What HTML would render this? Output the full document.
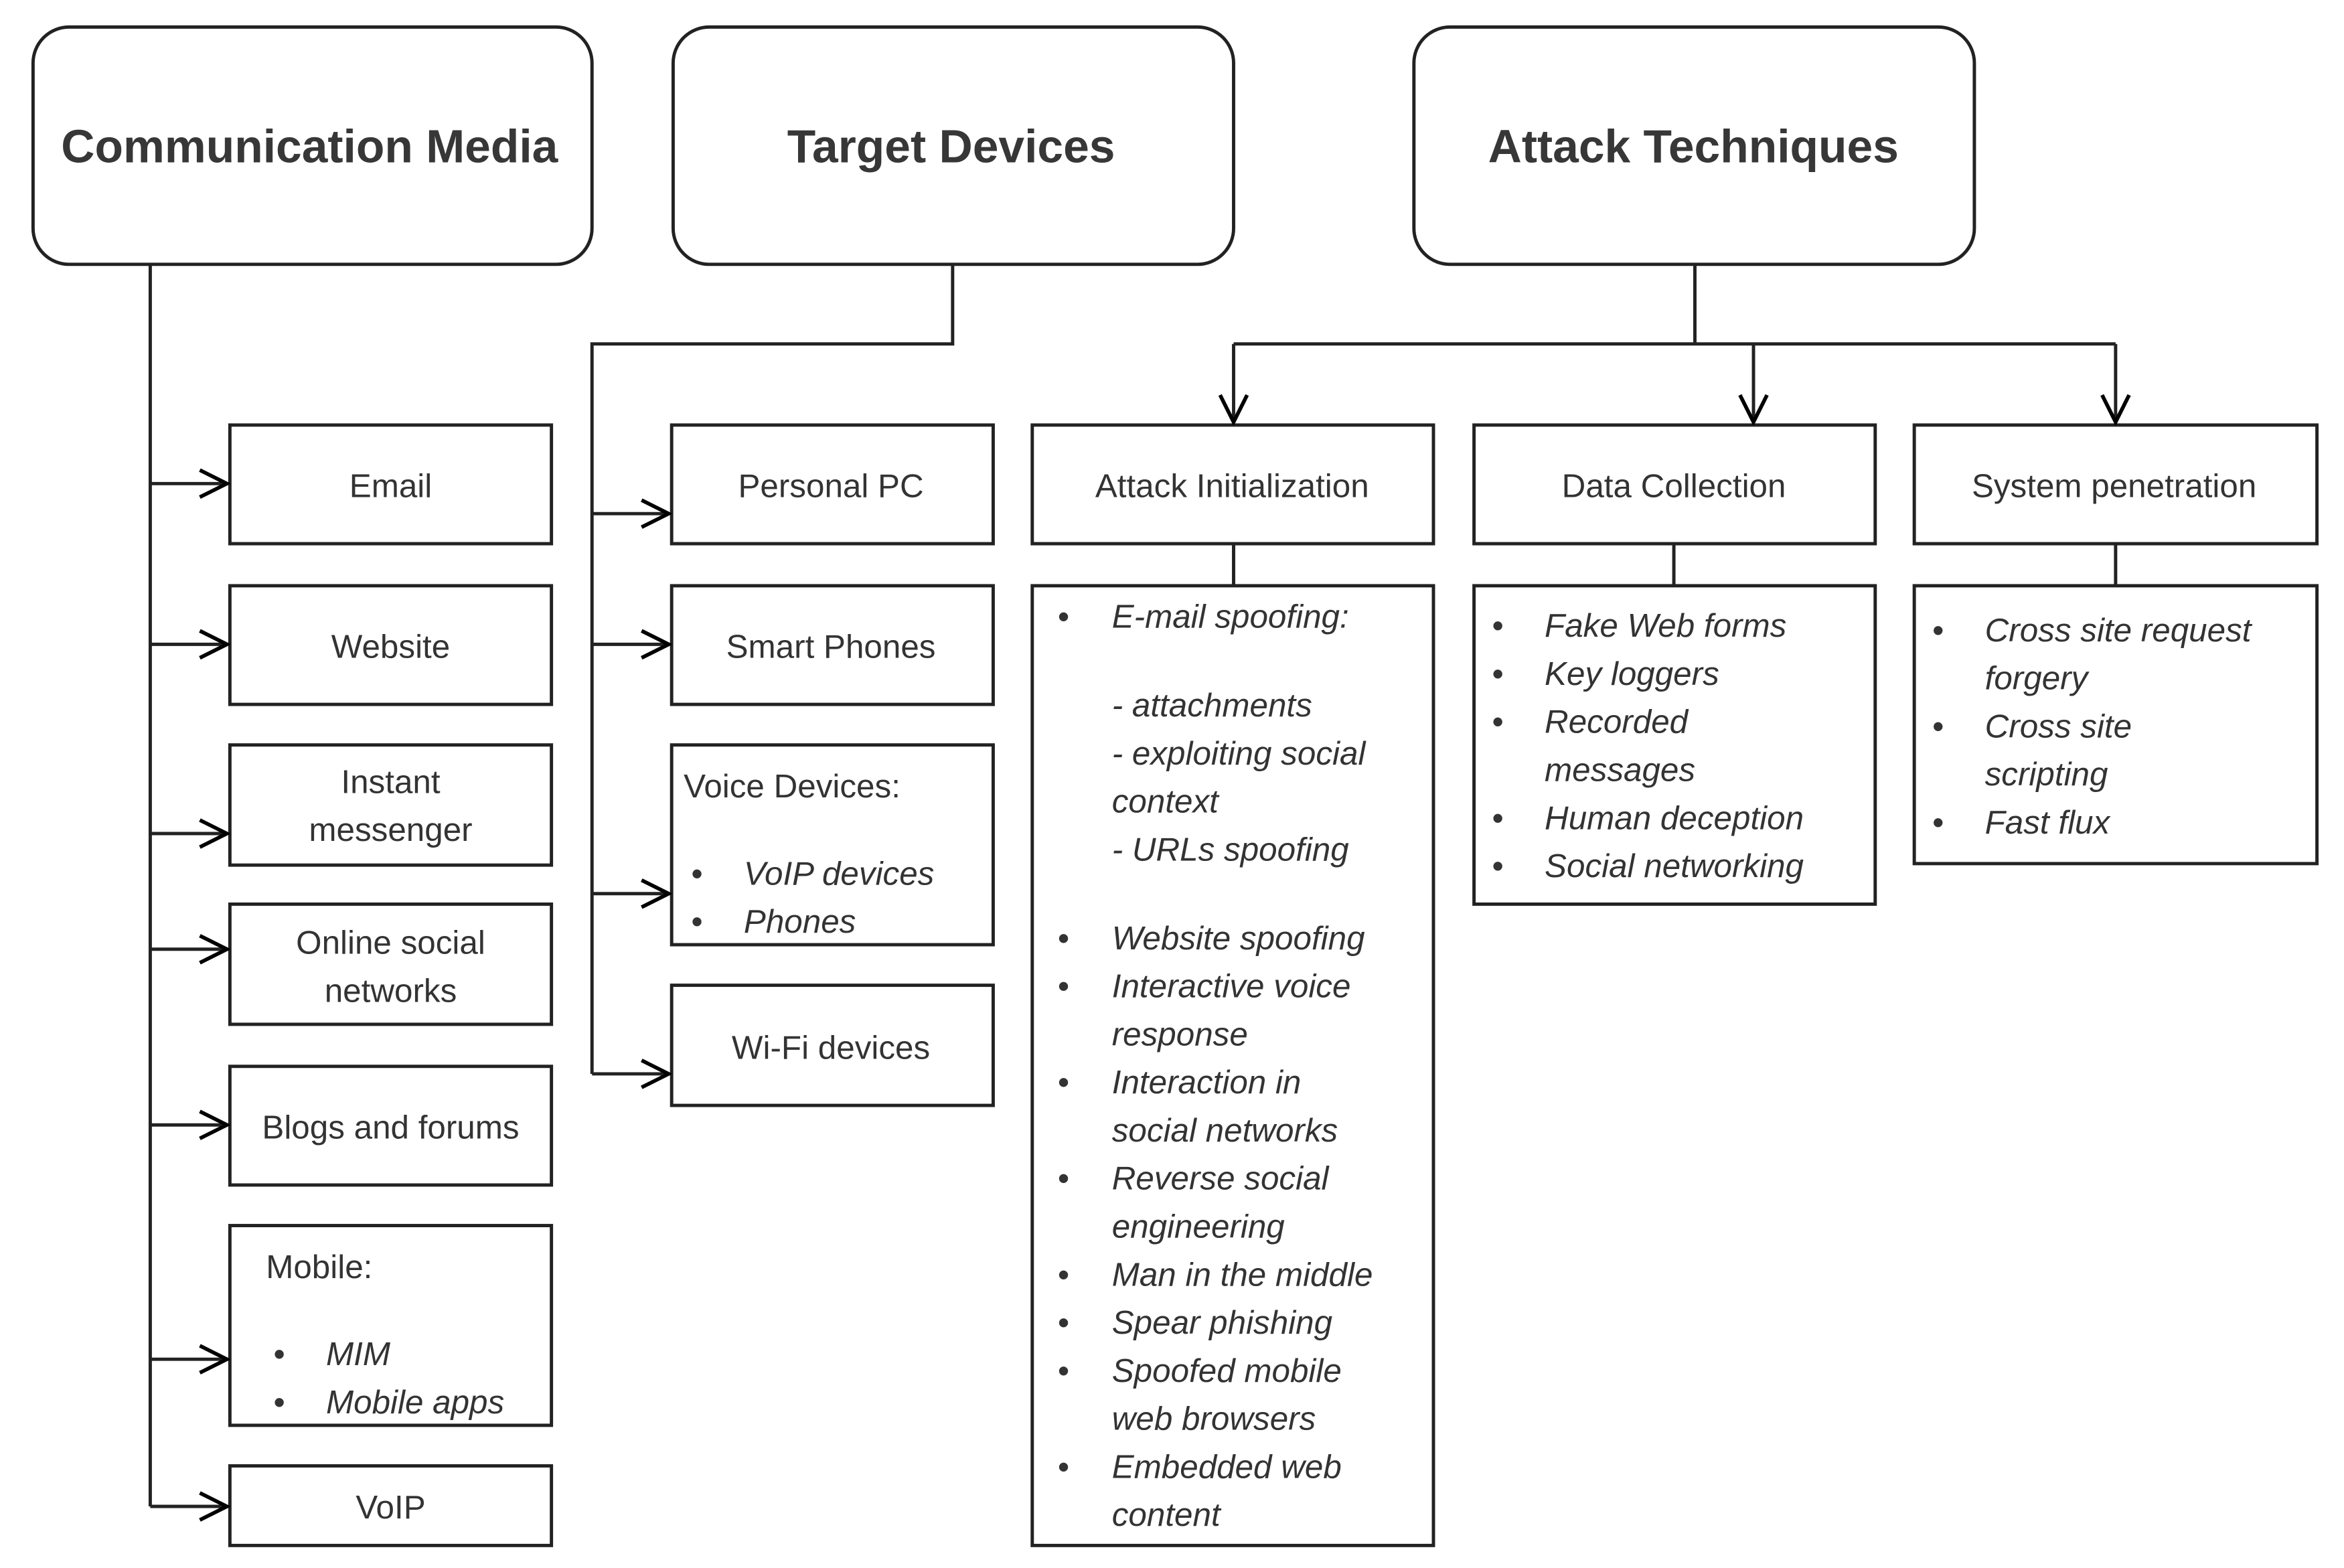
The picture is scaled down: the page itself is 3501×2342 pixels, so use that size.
<!DOCTYPE html>
<html><head><meta charset="utf-8"><style>html,body{margin:0;padding:0;background:#fff}svg{display:block}</style></head><body>
<svg width="3501" height="2342" viewBox="0 0 1560 1044" preserveAspectRatio="none" xmlns="http://www.w3.org/2000/svg" font-family="Liberation Sans, sans-serif">
<defs><marker id="a" markerWidth="10" markerHeight="10" refX="9" refY="5" orient="auto" markerUnits="userSpaceOnUse" viewBox="0 0 10 10"><path d="M0,0 L10,5 L0,10 L3,5 z" fill="#000"/></marker>
<marker id="b" markerWidth="22" markerHeight="22" refX="20" refY="11" orient="auto" markerUnits="userSpaceOnUse" viewBox="0 0 22 22"><path d="M2,2 L20,11 L2,20" fill="none" stroke="#000" stroke-width="2.5"/></marker></defs>
<g fill="#fff" stroke="#222" stroke-width="2.2">
<rect x="22" y="18" width="372" height="158" rx="24"/>
<rect x="448" y="18" width="373" height="158" rx="24"/>
<rect x="941" y="18" width="373" height="158" rx="24"/>
<rect x="153" y="283" width="214" height="79"/><rect x="153" y="390" width="214" height="79"/>
<rect x="153" y="496" width="214" height="80"/><rect x="153" y="602" width="214" height="80"/>
<rect x="153" y="710" width="214" height="79"/><rect x="153" y="816" width="214" height="133"/>
<rect x="153" y="976" width="214" height="53"/>
<rect x="447" y="283" width="214" height="79"/><rect x="447" y="390" width="214" height="79"/>
<rect x="447" y="496" width="214" height="133"/><rect x="447" y="656" width="214" height="80"/>
<rect x="687" y="283" width="267" height="79"/><rect x="981" y="283" width="267" height="79"/><rect x="1274" y="283" width="268" height="79"/>
<rect x="687" y="390" width="267" height="639"/><rect x="981" y="390" width="267" height="212"/><rect x="1274" y="390" width="268" height="185"/>
</g>
<g fill="none" stroke="#222" stroke-width="2.2">
<path d="M100 176 V1003"/>
<path d="M100 322 H151" marker-end="url(#b)"/><path d="M100 429 H151" marker-end="url(#b)"/><path d="M100 555 H151" marker-end="url(#b)"/>
<path d="M100 632 H151" marker-end="url(#b)"/><path d="M100 749 H151" marker-end="url(#b)"/><path d="M100 905 H151" marker-end="url(#b)"/><path d="M100 1003 H151" marker-end="url(#b)"/>
<path d="M634 176 V229 H394 V715"/>
<path d="M394 342 H445" marker-end="url(#b)"/><path d="M394 429 H445" marker-end="url(#b)"/><path d="M394 595 H445" marker-end="url(#b)"/><path d="M394 715 H445" marker-end="url(#b)"/>
<path d="M1128 176 V229 M821 229 H1408"/>
<path d="M821 229 V281" marker-end="url(#b)"/><path d="M1167 229 V281" marker-end="url(#b)"/><path d="M1408 229 V281" marker-end="url(#b)"/>
<path d="M821 362 V390 M1114 362 V390 M1408 362 V390"/>
</g>
<g font-size="31" fill="#222" text-anchor="middle" font-weight="bold" opacity="0.9">
<text x="206" y="108">Communication Media</text><text x="633" y="108">Target Devices</text><text x="1127" y="108">Attack Techniques</text>
</g>
<g font-size="22" fill="#333" text-anchor="middle">
<text x="260" y="331">Email</text><text x="260" y="438">Website</text>
<text x="260" y="528">Instant</text><text x="260" y="560">messenger</text>
<text x="260" y="635">Online social</text><text x="260" y="667">networks</text>
<text x="260" y="758">Blogs and forums</text><text x="260" y="1011">VoIP</text>
<text x="553" y="331">Personal PC</text><text x="553" y="438">Smart Phones</text><text x="553" y="705">Wi-Fi devices</text>
<text x="820" y="331">Attack Initialization</text><text x="1114" y="331">Data Collection</text><text x="1407" y="331">System penetration</text>
</g>
<g font-size="22" fill="#333">
<text x="177" y="851">Mobile:</text>
<text x="455" y="531">Voice Devices:</text>
</g>
<g font-size="22" fill="#333" font-style="italic">
<text x="182" y="909" font-style="normal">•</text><text x="217" y="909">MIM</text>
<text x="182" y="941" font-style="normal">•</text><text x="217" y="941">Mobile apps</text>
<text x="460" y="589" font-style="normal">•</text><text x="495" y="589">VoIP devices</text>
<text x="460" y="621" font-style="normal">•</text><text x="495" y="621">Phones</text>
<g font-style="normal"><text x="704" y="418">•</text><text x="704" y="632">•</text><text x="704" y="664">•</text><text x="704" y="728">•</text><text x="704" y="792">•</text><text x="704" y="856">•</text><text x="704" y="888">•</text><text x="704" y="920">•</text><text x="704" y="984">•</text></g>
<text x="740" y="418">E-mail spoofing:</text>
<text x="740" y="477">- attachments</text><text x="740" y="509">- exploiting social</text><text x="740" y="541">context</text><text x="740" y="573">- URLs spoofing</text>
<text x="740" y="632">Website spoofing</text><text x="740" y="664">Interactive voice</text><text x="740" y="696">response</text>
<text x="740" y="728">Interaction in</text><text x="740" y="760">social networks</text>
<text x="740" y="792">Reverse social</text><text x="740" y="824">engineering</text>
<text x="740" y="856">Man in the middle</text><text x="740" y="888">Spear phishing</text>
<text x="740" y="920">Spoofed mobile</text><text x="740" y="952">web browsers</text>
<text x="740" y="984">Embedded web</text><text x="740" y="1016">content</text>
<g font-style="normal"><text x="993" y="424">•</text><text x="993" y="456">•</text><text x="993" y="488">•</text><text x="993" y="552">•</text><text x="993" y="584">•</text></g>
<text x="1028" y="424">Fake Web forms</text><text x="1028" y="456">Key loggers</text><text x="1028" y="488">Recorded</text><text x="1028" y="520">messages</text>
<text x="1028" y="552">Human deception</text><text x="1028" y="584">Social networking</text>
<g font-style="normal"><text x="1286" y="427">•</text><text x="1286" y="491">•</text><text x="1286" y="555">•</text></g>
<text x="1321" y="427">Cross site request</text><text x="1321" y="459">forgery</text><text x="1321" y="491">Cross site</text><text x="1321" y="523">scripting</text><text x="1321" y="555">Fast flux</text>
</g>
</svg>
</body></html>
